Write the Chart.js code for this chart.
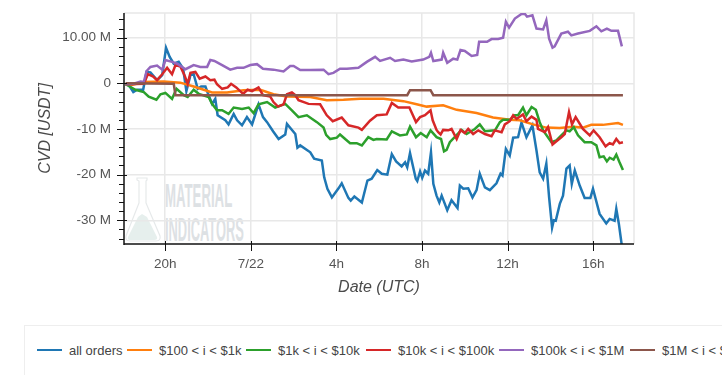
<!DOCTYPE html>
<html>
<head>
<meta charset="utf-8">
<script src="https://cdn.jsdelivr.net/npm/chart.js@4"></script>
<style>
body { margin:0; background:#fff; width:722px; height:375px; overflow:hidden; position:relative; font-family:'Liberation Sans',Arial,sans-serif; }
#wrap { position:absolute; left:0; top:0; width:722px; height:305px; }
.mark { position:absolute; color:#dde1e4; font:bold 33px 'Liberation Sans',sans-serif; transform-origin:0 0; white-space:nowrap; line-height:33px; }
#legend { position:absolute; left:24px; top:325px; width:760px; height:60px; border:1px solid #eee; box-sizing:border-box; white-space:nowrap; }
#legend span { position:absolute; top:17px; font-size:13px; color:#444; line-height:15px; }
#legend i { position:absolute; top:23px; width:25px; height:2px; }
</style>
</head>
<body>
<svg style="position:absolute;left:124px;top:175px" width="60" height="70">
	<path d="M13 3h10v2l-1 1v22l14 33q1 5-4 5H6q-5 0-4-5l13-33V6l-2-1z" fill="none" stroke="#e6e9ea" stroke-width="1.2"/>
	<path d="M14 42l4-3 5 3 10 20q1 3-3 3H6q-3 0-2-3z" fill="#e6efed"/>
</svg>
<div class="mark" style="left:165px;top:179px;transform:scaleX(.4)">MATERIAL</div>
<div class="mark" style="left:165px;top:213px;transform:scaleX(.39)">INDICATORS</div>
<div id="wrap"><canvas id="c" width="722" height="305"></canvas></div>
<div id="legend"></div>
<script>
const seriesNames = ['all orders', '$100 < i < $1k', '$1k < i < $10k', '$10k < i < $100k', '$100k < i < $1M', '$1M < i < $10M']
const seriesColors = ['#1f77b4', '#ff7f0e', '#2ca02c', '#d62728', '#9467bd', '#8c564b']

// hours relative to 7/22 00:00 UTC, values in million USDT
const allHours = [-5.85,-5.7,-5.49,-5.31,-5.03,-4.87,-4.69,-4.38,-4.14,-3.96,-3.79,-3.6,-3.37,-3.16,-3.01,-2.82,-2.67,-2.48,-2.32,-2.12,-1.97,-1.81,-1.66,-1.55,-1.19,-1.04,-.8,-.64,-.41,-.18,.06,.36,.57,.76,1.04,1.3,1.61,1.69,2.08,2.18,2.31,2.78,2.96,3.32,3.43,3.58,3.79,4.1,4.25,4.56,4.67,4.84,5.19,5.45,5.65,5.91,6.12,6.38,6.59,6.79,7.05,7.21,7.31,7.44,7.71,7.78,7.91,8.01,8.14,8.29,8.42,8.53,8.68,8.81,8.92,9.18,9.38,9.66,9.77,9.93,10.16,10.36,10.55,10.7,10.94,11.17,11.48,11.67,11.76,11.92,12.1,12.26,12.49,12.65,12.88,13.16,13.35,13.5,13.66,13.81,13.94,14.08,14.16,14.25,14.44,14.59,14.75,14.9,15,15.14,15.37,15.6,15.87,15.99,16.3,16.61,16.77,17,17.08,17.2,17.34]
const allValues = [-.2,-.4,-1.9,-1.4,-1.4,2.5,2.4,.7,1.8,7.8,5.8,4.3,4.7,3.2,-1.7,1.8,2,-1.2,-.7,-.7,-2.6,-4.5,-3.4,-7,-8.1,-9,-6.7,-8.1,-9.2,-7.4,-9,-4.6,-7.4,-8.5,-10.5,-12.2,-11.2,-8.9,-11.1,-14.1,-13.6,-15.1,-16.5,-16.9,-20.6,-23.1,-25,-23,-21.9,-25.1,-25.7,-24.8,-26.1,-21.3,-20.9,-19,-19.8,-20,-15.5,-17.1,-18.2,-17.3,-18.4,-15.3,-20.9,-21.4,-19.3,-20.7,-19.1,-19.8,-15.1,-22,-24.6,-26.1,-24.6,-27.8,-25.6,-27.3,-22.4,-23.1,-23,-25,-23.4,-19.8,-22.8,-23.4,-21.9,-19.8,-20.2,-14.4,-15.8,-11.9,-11.8,-8.6,-11.8,-9.2,-14.7,-19.5,-20.9,-17.6,-25,-31.6,-30,-30.1,-26.4,-24.6,-18.7,-18,-22,-19.1,-22.4,-25.1,-25.1,-23.1,-28.6,-30.7,-29.7,-30.1,-27.5,-30.8,-35.6]

const orangeHours = [-5.85,-5.62,-5,-4.07,-3.29,-2.67,-2.2,-1.81,-1.11,-.34,.44,1.06,1.69,2.78,3.55,4.33,5.11,6.2,7.13,7.75,8.22,8.99,9.62,10.55,11.32,12.1,12.57,13.19,13.81,14.43,15.06,15.52,15.91,16.45,17.16,17.39]
const orangeValues = [-.2,-.4,.3,.4,.15,-.7,-1.4,-2,-2,-1.5,-1.4,-2.4,-2.9,-3,-3.7,-3.6,-3.4,-3.4,-3.9,-4.6,-5.1,-4.8,-5.8,-6.5,-7.5,-8,-8.1,-9,-9.7,-9.8,-9.5,-9.7,-9.1,-9.1,-8.7,-9.1]

const greenHours = [-5.85,-5.62,-5.39,-5,-4.77,-4.41,-4.22,-3.99,-3.68,-3.47,-3.13,-2.95,-2.67,-2.43,-1.97,-1.81,-1.58,-1.34,-1.04,-.8,-.41,-.1,.13,.36,.76,1.14,1.61,1.92,2.23,2.62,3.09,3.4,3.52,3.71,4.02,4.17,4.41,4.64,4.95,5.19,5.49,5.73,5.88,6.35,6.59,6.97,7.29,7.44,7.72,7.94,8.22,8.4,8.68,8.89,9.03,9.15,9.3,9.65,9.85,10.08,10.47,10.7,10.94,11.41,11.64,11.79,12.1,12.34,12.49,12.72,12.88,13.12,13.32,13.5,13.66,14.05,14.28,14.51,14.75,14.9,15.09,15.29,15.6,15.91,16.15,16.3,16.49,16.64,16.77,16.95,17.08,17.23,17.39]
const greenValues = [-.2,-.8,-1.4,-1.9,-2.9,-3.6,-2.4,-2.1,-3.4,-1.2,-2.6,-3,-1.4,-2.3,-3,-4.5,-5.9,-5.9,-6.7,-5.3,-5.6,-5.3,-6.5,-4.6,-4.1,-5.3,-4.5,-5.9,-7.4,-7,-8.5,-9.7,-11.3,-12.2,-11.9,-11.2,-12.2,-13.1,-13.1,-13.6,-11.8,-12.4,-12.2,-12.3,-10.5,-11.4,-11.2,-9.5,-11.8,-10.9,-11.8,-10.3,-11.8,-12.2,-14.9,-14.6,-12.9,-11.2,-10.2,-11.1,-10,-9,-10.5,-10.3,-8.5,-8,-8,-7,-7,-5.3,-7,-5.2,-5.8,-8.5,-10.3,-12.9,-12.5,-11.4,-10.3,-10.5,-9.6,-11.4,-12.9,-12.9,-13.6,-16.2,-16,-17.1,-16.3,-16.7,-15.6,-17.3,-19]

const redHours = [-5.85,-5,-4.81,-4.56,-4.38,-4.14,-3.91,-3.68,-3.52,-3.29,-3.1,-2.95,-2.82,-2.59,-2.39,-2.12,-1.89,-1.7,-1.58,-1.34,-1.08,-.92,-.68,-.36,-.15,.06,.36,.57,.91,1.06,1.27,1.53,1.69,1.92,2.08,2.23,2.7,3.24,3.55,3.83,4.25,4.56,5.03,5.19,5.57,5.89,6.35,6.59,6.89,7.41,7.72,7.91,8.14,8.4,8.5,8.68,8.76,8.87,8.99,9.23,9.38,9.62,9.8,10,10.16,10.39,10.63,10.94,11.25,11.4,11.72,11.87,12.1,12.26,12.42,12.72,12.88,13.12,13.35,13.42,13.74,13.89,14.1,14.28,14.51,14.67,14.87,15.01,15.18,15.52,15.84,16.02,16.3,16.58,16.77,16.92,17.08,17.23,17.39]
const redValues = [-.2,-.1,2,1.5,.7,2,3.4,2,4,3.7,1.8,-.1,2.3,2.5,1,1.5,.7,.8,-.2,-1.2,-.9,-.1,-.9,-2.3,-1.4,-1.7,-.9,-2.6,-2.9,-4.1,-5.1,-4.6,-2.4,-2,-2.6,-3.7,-4.5,-4.6,-7,-8.3,-7.5,-9.2,-9.7,-10.2,-8.2,-7,-6.8,-4.3,-5.3,-5.3,-8.5,-7.4,-7,-5.9,-8.1,-10.2,-10.7,-11.2,-10.2,-10.3,-10,-12.2,-10.2,-10.9,-10,-11.1,-10.3,-11.1,-11.6,-10.3,-10.7,-9,-8.3,-7,-7.8,-6.8,-8.3,-7.3,-8,-10,-10.7,-9.6,-13.4,-12.7,-11.8,-11.1,-6.3,-9,-7.4,-10,-11.4,-10.3,-11.8,-13.8,-13.1,-13.4,-12.2,-13.1,-12.9]

const purpleHours = [-5.85,-5.47,-5.15,-5,-4.87,-4.69,-4.38,-4.14,-3.99,-3.68,-3.44,-3.05,-2.67,-2.36,-2.04,-1.89,-1.7,-1.34,-.96,-.64,-.34,-.02,.29,.57,1.06,1.53,1.84,2,2.31,2.78,3.4,3.63,3.86,4.17,4.49,5.03,5.42,5.81,6.04,6.51,6.74,7.13,7.52,8.06,8.34,8.42,8.53,8.92,8.99,9.18,9.46,9.65,9.8,10,10.32,10.58,10.67,11.04,11.25,11.56,11.79,11.92,12.07,12.34,12.65,12.81,12.91,13.16,13.35,13.66,13.81,13.94,14.1,14.2,14.51,14.82,14.98,15.29,15.84,16.15,16.38,16.64,16.85,17.16,17.34]
const purpleValues = [-.2,-.1,.4,.3,2.7,3.6,3.9,3,5.1,4.7,4.3,3.1,4,3.6,3.6,5.1,4.9,4,3,3.4,3.4,4,4.2,3.2,3,2.6,3.8,3.8,2.9,2.9,3,2,2.3,3.2,3.2,3.4,4.7,5.8,4.9,5.6,4.9,5.2,4.8,5.2,5.8,6.7,4.9,5.2,6.7,4.5,5.4,5.2,7.3,7.1,6,6.2,9.1,9.1,9.7,9.7,10,13.5,12.2,14.2,15.2,15.2,14.6,14.9,12,11.8,13.8,9.8,7.8,8.1,10.9,11.3,10.5,10.9,11.5,12.5,11.4,12,11.5,11.5,8.1]

const brownHours = [-5.85,-3.6,-3.52,7.31,7.44,8.4,8.53,17.39]
const brownValues = [0,-.1,-2.6,-2.6,-1.5,-1.5,-2.6,-2.6]

const xTickValues = [-4, 0, 4, 8, 12, 16]
const xTickLabels = ['20h', '7/22', '4h', '8h', '12h', '16h']
const yTickValues = [10, 0, -10, -20, -30]
const yTickLabels = ['10.00 M', '0', '-10 M', '-20 M', '-30 M']
const yMinorTicks = [14, 12, 8, 6, 4, 2, -2, -4, -6, -8, -12, -14, -16, -18, -22, -24, -26, -28, -32, -34]

const allHoursList = [allHours, orangeHours, greenHours, redHours, purpleHours, brownHours]
const allValuesList = [allValues, orangeValues, greenValues, redValues, purpleValues, brownValues]

const tickMarks = {
	id: 'tickMarks',
	afterDraw(chart) {
		const c = chart.ctx, xs = chart.scales.x, ys = chart.scales.y, area = chart.chartArea
		const line = (x1, y1, x2, y2) => { c.beginPath(); c.moveTo(x1, y1); c.lineTo(x2, y2); c.stroke() }
		c.save()
		c.strokeStyle = '#111'
		c.lineWidth = 1
		yTickValues.forEach(v => { const y = Math.round(ys.getPixelForValue(v)) + .5; line(area.left - 7, y, area.left + 3, y) })
		yMinorTicks.forEach(v => { const y = Math.round(ys.getPixelForValue(v)) + .5; line(area.left - 5, y, area.left, y) })
		xTickValues.forEach(v => { const x = Math.round(xs.getPixelForValue(v)) + .5; line(x, area.bottom - 3, x, area.bottom + 7) })
		c.lineWidth = 1.5
		line(area.left, area.top, area.left, area.bottom + 1)
		line(area.left, area.bottom, area.right, area.bottom)
		c.restore()
	}
}

new Chart(document.getElementById('c'), {
	type: 'line',
	data: {
		datasets: seriesNames.map((name, i) => ({
			label: name,
			data: allHoursList[i].map((h, k) => ({ x: h, y: allValuesList[i][k] })),
			borderColor: seriesColors[i],
			borderWidth: 2.5,
			pointRadius: 0,
			tension: 0,
			order: 5 - i,
		}))
	},
	options: {
		responsive: false,
		animation: false,
		layout: { padding: { left: 36, top: 13, right: 88, bottom: 0 } },
		plugins: { legend: { display: false }, tooltip: { enabled: false } },
		scales: {
			x: {
				type: 'linear',
				min: -5.925,
				max: 17.907,
				afterBuildTicks: s => { s.ticks = xTickValues.map(v => ({ value: v })) },
				afterFit: s => { s.height = 61 },
				grid: { color: '#e8e8e8', lineWidth: 1.5, drawTicks: false },
				border: { display: false },
				ticks: {
					autoSkip: false, maxRotation: 0, padding: 12, color: '#555',
					font: { size: 13.5, family: "'Liberation Sans'" },
					callback: v => xTickLabels[xTickValues.indexOf(v)],
				},
				title: { display: true, text: 'Date (UTC)', color: '#4a4a4a', padding: { top: 0, bottom: 8 }, font: { size: 16, style: 'italic', family: "'Liberation Sans'" } },
			},
			y: {
				min: -35.2,
				max: 15.41,
				afterBuildTicks: s => { s.ticks = yTickValues.map(v => ({ value: v })) },
				afterFit: s => { s.width = 88; s.paddingTop = 0; s.paddingBottom = 0 },
				grid: { color: '#e8e8e8', lineWidth: 1.5, drawTicks: false },
				border: { display: false },
				ticks: {
					autoSkip: false, padding: 13, color: '#555',
					font: { size: 13.5, family: "'Liberation Sans'" },
					callback: v => yTickLabels[yTickValues.indexOf(v)],
				},
				title: { display: true, text: 'CVD [USDT]', color: '#4a4a4a', padding: { top: 0, bottom: 0 }, font: { size: 16, style: 'italic', family: "'Liberation Sans'" } },
			},
		},
	},
	plugins: [tickMarks, {
		id: 'frame',
		beforeDatasetsDraw(chart) {
			const c = chart.ctx, a = chart.chartArea
			c.save(); c.strokeStyle = '#e8e8e8'; c.lineWidth = 1.5
			c.beginPath(); c.moveTo(a.left, a.top); c.lineTo(a.right, a.top); c.lineTo(a.right, a.bottom); c.stroke()
			c.restore()
		}
	}]
})

// legend row, clipped by the window on the right like the original
const legendLeft = [13, 103, 222, 342, 475, 606]
const legend = document.getElementById('legend')
seriesNames.forEach((name, i) => {
	const mark = document.createElement('i')
	mark.style.left = legendLeft[i] - 1 + 'px'
	mark.style.background = seriesColors[i]
	legend.appendChild(mark)
	const label = document.createElement('span')
	label.style.left = legendLeft[i] + 31 + 'px'
	label.textContent = name
	legend.appendChild(label)
})
</script>
</body>
</html>
